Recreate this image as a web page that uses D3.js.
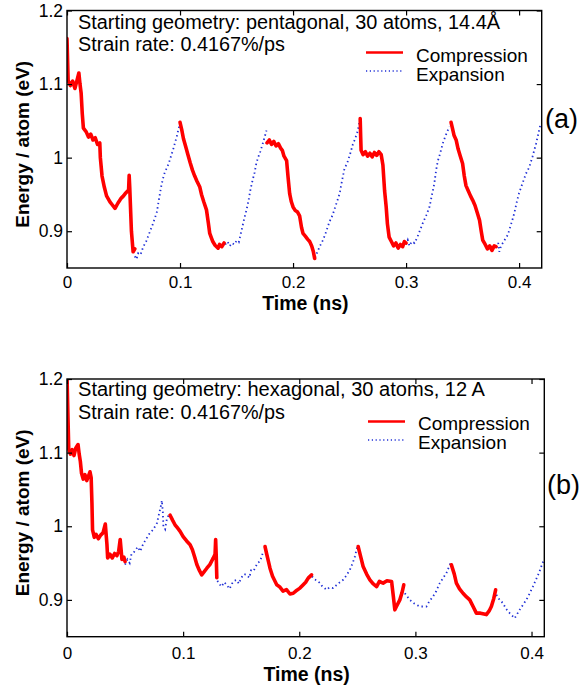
<!DOCTYPE html>
<html>
<head>
<meta charset="utf-8">
<script src="https://cdn.jsdelivr.net/npm/d3@7"></script>
<style>
  html, body { margin: 0; padding: 0; background: #fff; }
  svg { display: block; }
  text { font-family: "Liberation Sans", Arial, Helvetica, sans-serif; fill: #000; }
</style>
</head>
<body>
<svg id="chart" width="583" height="686"></svg>
<script>
// ---------- data ----------
const xTickValues = [0, 0.1, 0.2, 0.3, 0.4];
const xTickLabels = ["0", "0.1", "0.2", "0.3", "0.4"];
const yTickValues = [0.9, 1.0, 1.1, 1.2];
const yTickLabels = ["0.9", "1", "1.1", "1.2"];

const legendLabels = ["Compression", "Expansion"];
const panelLetters = ["(a)", "(b)"];
const annotationA = ["Starting geometry: pentagonal, 30 atoms, 14.4Å", "Strain rate: 0.4167%/ps"];
const annotationB = ["Starting geometry: hexagonal, 30 atoms, 12 A", "Strain rate: 0.4167%/ps"];

// Panel (a): compression segments [time ns, energy eV]
const aComp1 = [[0,1.162],[0.001,1.105],[0.003,1.098],[0.005,1.104],[0.007,1.094],[0.009,1.106],[0.0105,1.115],[0.0115,1.100],[0.0125,1.088],[0.0135,1.060],[0.0145,1.040],[0.017,1.035],[0.019,1.028],[0.021,1.032],[0.023,1.024],[0.025,1.027],[0.027,1.018],[0.029,1.020],[0.0295,1.000],[0.031,0.975],[0.033,0.960],[0.035,0.948],[0.038,0.940],[0.040,0.936],[0.0425,0.931],[0.045,0.938],[0.048,0.945],[0.050,0.948],[0.052,0.952],[0.0545,0.956],[0.055,0.976],[0.0555,0.960],[0.057,0.900],[0.0585,0.872],[0.060,0.876]];
const aComp2 = [[0.1000,1.048],[0.1015,1.038],[0.103,1.026],[0.105,1.015],[0.107,1.004],[0.109,0.993],[0.111,0.983],[0.113,0.975],[0.115,0.968],[0.1175,0.960],[0.119,0.950],[0.121,0.940],[0.1234,0.929],[0.125,0.912],[0.1263,0.897],[0.128,0.890],[0.129,0.886],[0.131,0.881],[0.1337,0.877],[0.135,0.882],[0.137,0.879],[0.139,0.884]];
const aComp3 = [[0.1770,1.020],[0.179,1.024],[0.181,1.018],[0.183,1.022],[0.185,1.016],[0.187,1.019],[0.189,1.013],[0.1905,1.010],[0.192,1.002],[0.1943,0.996],[0.1955,0.975],[0.197,0.951],[0.1985,0.940],[0.200,0.933],[0.202,0.928],[0.204,0.926],[0.2058,0.921],[0.2075,0.905],[0.2088,0.897],[0.211,0.893],[0.213,0.889],[0.2147,0.886],[0.2165,0.880],[0.218,0.872],[0.2191,0.863]];
const aComp4 = [[0.2594,1.053],[0.2598,1.030],[0.2602,1.010],[0.262,1.004],[0.264,1.008],[0.266,1.002],[0.268,1.006],[0.270,1.001],[0.272,1.007],[0.274,1.003],[0.276,1.008],[0.278,1.004],[0.2795,0.990],[0.281,0.955],[0.2824,0.933],[0.2835,0.910],[0.285,0.892],[0.287,0.886],[0.289,0.880],[0.291,0.884],[0.293,0.877],[0.295,0.882],[0.297,0.879],[0.2985,0.886],[0.300,0.884]];
const aComp5 = [[0.3398,1.048],[0.341,1.040],[0.3425,1.030],[0.3443,1.024],[0.346,1.012],[0.348,1.002],[0.350,0.992],[0.3515,0.975],[0.353,0.962],[0.355,0.955],[0.357,0.948],[0.359,0.942],[0.361,0.935],[0.363,0.925],[0.365,0.915],[0.3665,0.900],[0.3678,0.888],[0.370,0.882],[0.372,0.876],[0.374,0.880],[0.376,0.874],[0.378,0.880],[0.3796,0.879]];
// Panel (a): expansion segments
const aExp1 = [[0.060,0.866],[0.0615,0.862],[0.063,0.870],[0.065,0.868],[0.0675,0.879],[0.070,0.886],[0.0735,0.900],[0.0765,0.912],[0.0795,0.926],[0.081,0.940],[0.0822,0.951],[0.0835,0.962],[0.085,0.972],[0.0865,0.980],[0.088,0.985],[0.090,0.992],[0.092,1.002],[0.0937,1.010],[0.0955,1.020],[0.097,1.028],[0.0985,1.038],[0.0998,1.046]];
const aExp2 = [[0.140,0.882],[0.142,0.886],[0.144,0.880],[0.146,0.884],[0.148,0.882],[0.150,0.887],[0.152,0.885],[0.1535,0.895],[0.155,0.905],[0.157,0.918],[0.159,0.930],[0.161,0.945],[0.1625,0.958],[0.164,0.968],[0.166,0.980],[0.1675,0.992],[0.169,1.000],[0.171,1.008],[0.173,1.018],[0.1745,1.026],[0.1765,1.037]];
const aExp3 = [[0.2195,0.864],[0.221,0.870],[0.2235,0.879],[0.2265,0.888],[0.229,0.898],[0.232,0.912],[0.235,0.922],[0.238,0.936],[0.2412,0.951],[0.2435,0.970],[0.2455,0.985],[0.248,0.993],[0.2505,1.005],[0.2529,1.018],[0.255,1.026],[0.257,1.035],[0.2585,1.046],[0.259,1.051]];
const aExp4 = [[0.300,0.882],[0.3015,0.888],[0.303,0.880],[0.305,0.886],[0.3075,0.884],[0.310,0.892],[0.3125,0.902],[0.3148,0.911],[0.318,0.922],[0.3207,0.933],[0.323,0.950],[0.325,0.965],[0.3266,0.983],[0.328,0.995],[0.330,1.005],[0.3324,1.019],[0.3345,1.028],[0.3369,1.037],[0.3385,1.042]];
const aExp5 = [[0.380,0.878],[0.3815,0.884],[0.3825,0.872],[0.384,0.880],[0.386,0.885],[0.388,0.890],[0.390,0.895],[0.392,0.905],[0.394,0.915],[0.396,0.926],[0.398,0.940],[0.400,0.952],[0.403,0.965],[0.406,0.978],[0.409,0.987],[0.412,1.002],[0.415,1.019],[0.417,1.032],[0.419,1.046]];

// Panel (b): compression segments
const bComp1 = [[0,1.205],[0.0008,1.150],[0.0015,1.105],[0.003,1.098],[0.0045,1.104],[0.006,1.096],[0.0075,1.106],[0.0095,1.111],[0.0105,1.098],[0.0115,1.088],[0.0125,1.072],[0.014,1.064],[0.0155,1.070],[0.017,1.062],[0.0185,1.068],[0.0198,1.074],[0.0208,1.066],[0.0215,1.030],[0.022,0.995],[0.0235,0.985],[0.025,0.989],[0.027,0.983],[0.029,0.988],[0.031,0.991],[0.033,1.003],[0.0344,0.975],[0.035,0.957],[0.037,0.962],[0.039,0.957],[0.041,0.963],[0.043,0.960],[0.0445,0.966],[0.0458,0.982],[0.0466,0.968],[0.0473,0.955],[0.049,0.958],[0.050,0.952]];
const bComp2 = [[0.0888,1.015],[0.091,1.008],[0.093,1.002],[0.095,0.998],[0.0974,0.993],[0.100,0.986],[0.103,0.980],[0.106,0.975],[0.108,0.968],[0.110,0.958],[0.1118,0.948],[0.114,0.940],[0.116,0.934],[0.118,0.938],[0.1204,0.943],[0.123,0.948],[0.126,0.957],[0.1275,0.962],[0.128,0.982],[0.1285,0.960],[0.129,0.930]];
const bComp3 = [[0.1705,0.9725],[0.172,0.962],[0.1735,0.952],[0.1748,0.943],[0.177,0.932],[0.1806,0.9205],[0.183,0.918],[0.186,0.912],[0.189,0.914],[0.192,0.908],[0.1948,0.909],[0.197,0.912],[0.2006,0.916],[0.203,0.920],[0.2055,0.924],[0.2077,0.9296],[0.2106,0.934]];
const bComp4 = [[0.2507,0.9725],[0.253,0.958],[0.255,0.9453],[0.258,0.935],[0.2608,0.9273],[0.2635,0.922],[0.2666,0.918],[0.269,0.925],[0.2722,0.9228],[0.2755,0.926],[0.2795,0.925],[0.281,0.905],[0.2823,0.8865],[0.284,0.892],[0.2866,0.900],[0.2885,0.910],[0.290,0.9205]];
const bComp5 = [[0.331,0.9476],[0.3335,0.935],[0.3353,0.9228],[0.338,0.915],[0.341,0.909],[0.344,0.904],[0.3468,0.900],[0.350,0.890],[0.3525,0.882],[0.356,0.882],[0.3611,0.880],[0.3635,0.885],[0.3654,0.891],[0.3675,0.902],[0.3691,0.9137]];
// Panel (b): expansion segments
const bExp1 = [[0.050,0.948],[0.052,0.955],[0.054,0.950],[0.0555,0.962],[0.0573,0.964],[0.059,0.968],[0.061,0.972],[0.063,0.966],[0.0659,0.977],[0.068,0.982],[0.070,0.988],[0.0716,0.991],[0.074,0.995],[0.0774,1.004],[0.079,1.015],[0.0805,1.025],[0.0817,1.035],[0.0825,1.020],[0.083,1.000],[0.0845,0.996],[0.086,1.010],[0.0875,1.015]];
const bExp2 = [[0.1295,0.926],[0.131,0.922],[0.133,0.918],[0.1355,0.924],[0.1376,0.920],[0.140,0.915],[0.142,0.922],[0.144,0.926],[0.146,0.927],[0.148,0.922],[0.150,0.930],[0.1525,0.935],[0.1548,0.934],[0.157,0.930],[0.1585,0.940],[0.1605,0.939],[0.1625,0.945],[0.164,0.950],[0.166,0.952],[0.1675,0.958],[0.169,0.966]];
const bExp3 = [[0.211,0.932],[0.213,0.928],[0.2155,0.926],[0.2178,0.9228],[0.220,0.918],[0.2236,0.9137],[0.226,0.917],[0.2292,0.916],[0.232,0.920],[0.235,0.924],[0.2378,0.9273],[0.2405,0.933],[0.2436,0.9408],[0.246,0.950],[0.2479,0.9589],[0.250,0.9725]];
const bExp4 = [[0.2909,0.909],[0.2952,0.900],[0.299,0.895],[0.3038,0.891],[0.3095,0.891],[0.312,0.898],[0.3152,0.9046],[0.318,0.912],[0.321,0.9228],[0.324,0.930],[0.3267,0.9364],[0.3302,0.950]];
const bExp5 = [[0.3697,0.907],[0.3725,0.900],[0.3754,0.8956],[0.378,0.888],[0.3812,0.882],[0.3855,0.875],[0.3898,0.8866],[0.3925,0.893],[0.3955,0.900],[0.3985,0.909],[0.4012,0.918],[0.404,0.928],[0.4065,0.937],[0.4084,0.9453],[0.410,0.952]];

// ---------- drawing ----------
const RED = "#ff0000";
const BLUE = "#1f2fd6";
const svg = d3.select("#chart");

const panels = [
  {
    id: "a", left: 67, right: 541.7, top: 10.5, bottom: 268, xMax: 0.42,
    comp: [aComp1, aComp2, aComp3, aComp4, aComp5],
    exp: [aExp1, aExp2, aExp3, aExp4, aExp5],
    ann: annotationA, annY: [28.5, 50.5], annLen: [422, 207],
    leg: { x1: 366, x2: 403, tx: 416, y1: 52.5, y2: 71, t1: 61.5, t2: 80.5 },
    letter: panelLetters[0], letterX: 545, letterY: 128,
    xLabelY: 287.5, xTitleY: 309.5
  },
  {
    id: "b", left: 67, right: 544.3, top: 379, bottom: 636.7, xMax: 0.411,
    comp: [bComp1, bComp2, bComp3, bComp4, bComp5],
    exp: [bExp1, bExp2, bExp3, bExp4, bExp5],
    ann: annotationB, annY: [395.5, 418.5], annLen: [407, 207],
    leg: { x1: 368, x2: 405, tx: 418, y1: 421.5, y2: 440, t1: 429.5, t2: 448.5 },
    letter: panelLetters[1], letterX: 547, letterY: 494,
    xLabelY: 658.5, xTitleY: 680.5
  }
];

panels.forEach(p => {
  const x = d3.scaleLinear().domain([0, p.xMax]).range([p.left, p.right]);
  const y = d3.scaleLinear().domain([0.85, 1.2]).range([p.bottom, p.top]);
  const g = svg.append("g");

  const clipId = "clip-" + p.id;
  svg.append("clipPath").attr("id", clipId)
    .append("rect").attr("x", p.left).attr("y", p.top)
    .attr("width", p.right - p.left).attr("height", p.bottom - p.top);

  const line = d3.line().x(d => x(d[0])).y(d => y(d[1]));
  const plot = g.append("g").attr("clip-path", `url(#${clipId})`);

  plot.selectAll("path.exp").data(p.exp).join("path")
    .attr("class", "exp")
    .attr("d", line)
    .attr("fill", "none")
    .attr("stroke", BLUE)
    .attr("stroke-width", 1.8)
    .attr("stroke-dasharray", "1.4 3");

  plot.selectAll("path.comp").data(p.comp).join("path")
    .attr("class", "comp")
    .attr("d", line)
    .attr("fill", "none")
    .attr("stroke", RED)
    .attr("stroke-width", 3.6)
    .attr("stroke-linejoin", "round")
    .attr("stroke-linecap", "round");

  // axes with inward ticks
  const tk = 5;
  const axB = g.append("g").attr("transform", `translate(0,${p.bottom})`)
    .call(d3.axisBottom(x).tickValues(xTickValues).tickSizeInner(-tk).tickSizeOuter(0)
      .tickFormat((d, i) => xTickLabels[i]).tickPadding(0));
  axB.select(".domain").remove();
  axB.selectAll("text").attr("y", null).attr("dy", null)
    .attr("transform", `translate(0,${p.xLabelY - p.bottom})`)
    .style("font-size", "17px").style("font-family", "'Liberation Sans', Arial, sans-serif").attr("fill", "#000");

  const axT = g.append("g").attr("transform", `translate(0,${p.top})`)
    .call(d3.axisTop(x).tickValues(xTickValues).tickSizeInner(-tk).tickSizeOuter(0).tickFormat(""));
  axT.select(".domain").remove();

  const axL = g.append("g").attr("transform", `translate(${p.left},0)`)
    .call(d3.axisLeft(y).tickValues(yTickValues).tickSizeInner(-tk).tickSizeOuter(0)
      .tickFormat((d, i) => yTickLabels[i]).tickPadding(5));
  axL.select(".domain").remove();
  axL.selectAll("text").attr("x", -4).style("font-size", "17.5px")
    .style("font-family", "'Liberation Sans', Arial, sans-serif").attr("fill", "#000");

  const axR = g.append("g").attr("transform", `translate(${p.right},0)`)
    .call(d3.axisRight(y).tickValues(yTickValues).tickSizeInner(-tk).tickSizeOuter(0).tickFormat(""));
  axR.select(".domain").remove();

  g.selectAll(".tick line").attr("stroke", "#000").attr("stroke-width", 1.2);

  // frame
  g.append("rect").attr("x", p.left).attr("y", p.top)
    .attr("width", p.right - p.left).attr("height", p.bottom - p.top)
    .attr("fill", "none").attr("stroke", "#000").attr("stroke-width", 1.4);

  // annotations
  p.ann.forEach((t, i) => {
    g.append("text").attr("x", 78).attr("y", p.annY[i])
      .attr("textLength", p.annLen[i]).attr("lengthAdjust", "spacingAndGlyphs")
      .style("font-size", "19.5px").text(t);
  });

  // legend
  const L = p.leg;
  g.append("line").attr("x1", L.x1).attr("x2", L.x2).attr("y1", L.y1).attr("y2", L.y1)
    .attr("stroke", RED).attr("stroke-width", 2.5);
  g.append("line").attr("x1", L.x1).attr("x2", L.x2).attr("y1", L.y2).attr("y2", L.y2)
    .attr("stroke", BLUE).attr("stroke-width", 1.4).attr("stroke-dasharray", "1.2 2.6");
  g.append("text").attr("x", L.tx).attr("y", L.t1).style("font-size", "19px").text(legendLabels[0]);
  g.append("text").attr("x", L.tx).attr("y", L.t2).style("font-size", "19px").text(legendLabels[1]);

  // axis titles
  g.append("text").attr("x", (p.left + p.right) / 2 + 1).attr("y", p.xTitleY)
    .attr("text-anchor", "middle").style("font-size", "19.5px").style("font-weight", "bold")
    .text("Time (ns)");
  g.append("text")
    .attr("transform", `translate(29,${(p.top + p.bottom) / 2 + 5}) rotate(-90)`)
    .attr("text-anchor", "middle").style("font-size", "19px").style("font-weight", "bold")
    .text("Energy / atom (eV)");

  // panel letter
  g.append("text").attr("x", p.letterX).attr("y", p.letterY)
    .style("font-size", "27px").text(p.letter);
});
</script>
</body>
</html>
